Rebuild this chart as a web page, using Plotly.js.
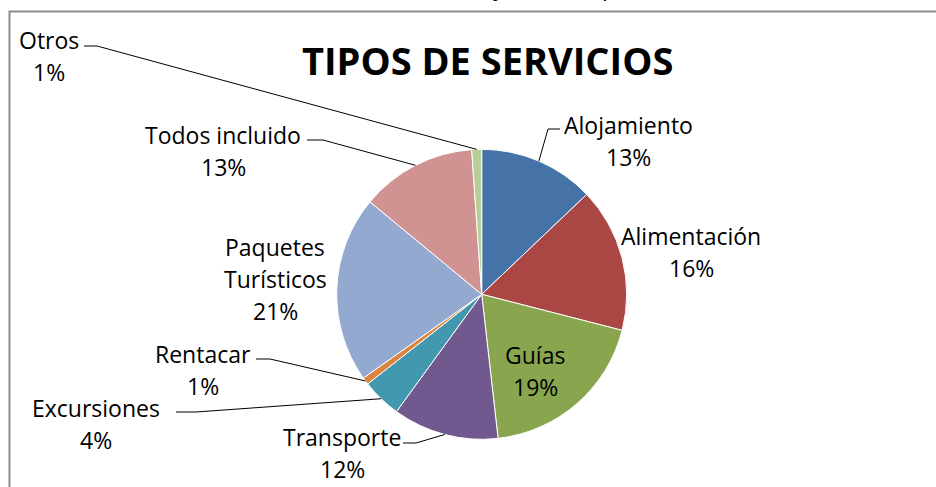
<!DOCTYPE html>
<html><head><meta charset="utf-8">
<script src="https://cdn.plot.ly/plotly-3.0.1.min.js"></script>
<style>html,body{margin:0;padding:0;background:#fff;}#chart{width:936px;height:487px;}</style>
</head><body><div id="chart"></div>
<script>
// ---- data ----
const categories = ['Alojamiento','Alimentación','Guías','Transporte','Excursiones','Rentacar','Paquetes Turísticos','Todos incluido','Otros'];
const values = [12.9, 16.1, 19.2, 11.8, 4.4, 0.8, 20.8, 12.9, 1.1];
const labelLines = [['Alojamiento'],['Alimentación'],['Guías'],['Transporte'],['Excursiones'],['Rentacar'],['Paquetes','Turísticos'],['Todos incluido'],['Otros']];
const chartTitle = 'TIPOS DE SERVICIOS';
const sourceText = 'Fuente: Trabajo de Campo';

// ---- styles / layout ----
const colors = ['#4572A7','#AA4643','#89A54E','#71588F','#4198AF','#DB843D','#93A9CF','#D19392','#B9CD96'];
const W = 936, H = 487;
const CX = 481.7, CY = 294.3, R = 145;
const FONT = 'Open Sans, sans-serif';
const LABEL_SIZE = 23, LINE_GAP = 32;
// label first-line centre (px)
const labelPos = [[628,125],[691,236],[535,355],[342,437],[96,408],[203,354],[275,247],[223,135],[49,40]];
// leader stub: [x at label side, x at pie side, y] (px), null = no leader
const stubs = [[560,548,129], null, null, [403,416,443], [176,196,412], [256,270,359], null, [307,323,140], [84,97,46]];

const px = x => x / W;
const py = y => 1 - y / H;

const total = values.reduce((a,b)=>a+b,0);
const annotations = [];
const shapes = [];

// leader lines from slice mid-angle on pie edge
let cum = 0;
values.forEach((v,i) => {
  const mid = (cum + v/2) / total * 2 * Math.PI;
  cum += v;
  const s = stubs[i];
  if (s) {
    const ex = CX + R * Math.sin(mid), ey = CY - R * Math.cos(mid);
    shapes.push({type:'line', xref:'paper', yref:'paper', x0:px(s[0]), y0:py(s[2]), x1:px(s[1]), y1:py(s[2]), line:{color:'#000', width:1}});
    shapes.push({type:'line', xref:'paper', yref:'paper', x0:px(s[1]), y0:py(s[2]), x1:px(ex), y1:py(ey), line:{color:'#000', width:1}});
  }
  const lines = labelLines[i].concat([Math.round(v/total*100) + '%']);
  lines.forEach((t,k) => {
    annotations.push({text:t, x:px(labelPos[i][0]), y:py(labelPos[i][1] + k*LINE_GAP), xref:'paper', yref:'paper',
      xanchor:'center', yanchor:'middle', showarrow:false, font:{family:FONT, size:LABEL_SIZE, color:'#000'}});
  });
});

// title
annotations.push({text:'<b>'+chartTitle+'</b>', x:px(487.5), y:py(60), xref:'paper', yref:'paper', xanchor:'center', yanchor:'middle',
  showarrow:false, font:{family:FONT, size:38, color:'#000'}});
// source caption, cut off at the top of the picture (as in the reference)
annotations.push({text:sourceText, x:px(488), y:py(4), xref:'paper', yref:'paper', xanchor:'center', yanchor:'bottom',
  showarrow:false, font:{family:FONT, size:23, color:'#000'}});

// chart frame
shapes.push({type:'rect', xref:'paper', yref:'paper', x0:px(9.5), x1:px(960), y0:py(520), y1:py(11.5), line:{color:'#8c8c8c', width:2}, layer:'above'});

const trace = {
  type:'pie', labels:categories, values:values, sort:false, direction:'clockwise', rotation:0,
  marker:{colors:colors, line:{color:'#ffffff', width:1}},
  textinfo:'none', hoverinfo:'none', showlegend:false,
  domain:{x:[px(CX-R), px(CX+R)], y:[py(CY+R), py(CY-R)]}
};

Plotly.newPlot('chart', [trace], {
  width:W, height:H, margin:{l:0,r:0,t:0,b:0}, paper_bgcolor:'#fff', plot_bgcolor:'#fff',
  showlegend:false, annotations:annotations, shapes:shapes
}, {staticPlot:true});
</script>
</body></html>
